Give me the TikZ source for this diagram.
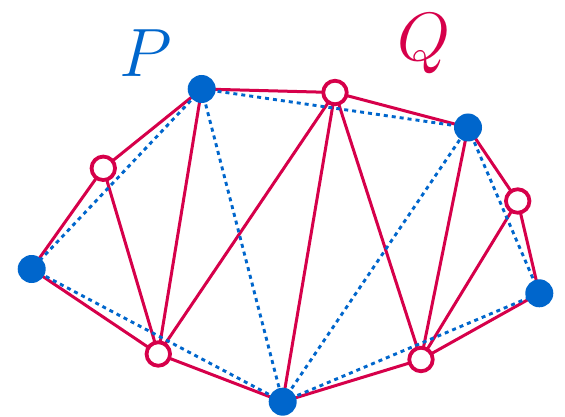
\documentclass[tikz,border=0pt]{standalone}
\begin{document}
\begin{tikzpicture}[x=1pt,y=-1pt]
\definecolor{pblue}{RGB}{0,102,204}
\definecolor{qred}{RGB}{214,0,74}
\tikzset{
  redge/.style={draw=qred,line width=3pt},
  bedge/.style={draw=pblue,line width=2.9pt,dash pattern=on 4pt off 4pt},
  pnode/.style={circle,fill=pblue,inner sep=0pt,minimum size=28pt},
  qnode/.style={circle,draw=qred,fill=white,line width=3.8pt,inner sep=0pt,minimum size=23.5pt},
  lab/.style={font=\Huge,scale=2.75,inner sep=0pt}
}
\useasboundingbox (0,0) rectangle (565,417);
% coordinates
\coordinate (p1) at (201.7,89);
\coordinate (p2) at (468,127.5);
\coordinate (p3) at (31.7,269);
\coordinate (p4) at (539.3,293.3);
\coordinate (p5) at (282.7,401.7);
\coordinate (q1) at (335,92.5);
\coordinate (q2) at (103.3,168.3);
\coordinate (q3) at (517.7,201);
\coordinate (q4) at (158.3,354);
\coordinate (q5) at (421,359.5);
% red edges
\draw[redge] (p1) -- (q1) -- (p2) -- (q3) -- (p4) -- (q5) -- (p5) -- (q4) -- (p3) -- (q2) -- (p1);
\draw[redge] (q2) -- (q4);
\draw[redge] (p1) -- (q4);
\draw[redge] (q1) -- (q4);
\draw[redge] (q1) -- (p5);
\draw[redge] (q1) -- (q5);
\draw[redge] (p2) -- (q5);
\draw[redge] (q3) -- (q5);
% blue dotted edges
\draw[bedge] (p1) -- (p2);
\draw[bedge] (p1) -- (p3);
\draw[bedge] (p1) -- (p5);
\draw[bedge] (p3) -- (p5);
\draw[bedge] (p5) -- (p2);
\draw[bedge] (p5) -- (p4);
\draw[bedge] (p2) -- (p4);
% nodes
\foreach \n in {p1,p2,p3,p4,p5} \node[pnode] (N\n) at (\n) {};
\foreach \n in {q1,q2,q3,q4,q5} \node[qnode] (N\n) at (\n) {};
% labels
\node[lab,text=pblue] (lp) at (146,53) {$P$};
\node[lab,text=qred] (lq) at (424,44) {$Q$};
\end{tikzpicture}
\end{document}
